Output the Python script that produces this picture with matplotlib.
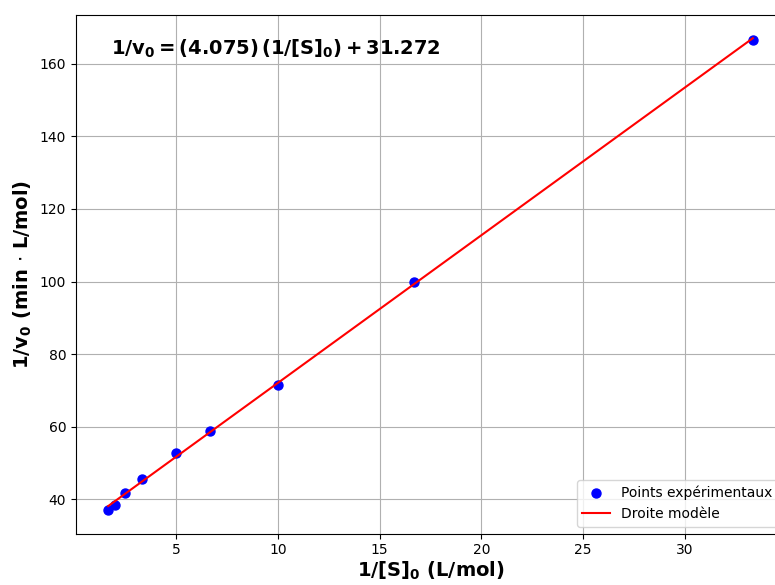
import matplotlib
matplotlib.use("Agg")
import matplotlib.pyplot as plt
import numpy as np

# 1/[S]0 (L/mol) and 1/v0 (min.L/mol)
inv_s = [1.667, 2.0, 2.5, 3.333, 5.0, 6.667, 10.0, 16.667, 33.333]
inv_v = [37.0, 38.3, 41.6, 45.5, 52.8, 58.7, 71.4, 100.0, 166.7]
slope = 4.075
intercept = 31.272

fig = plt.figure(figsize=(7.75, 5.85), dpi=100)
ax = fig.add_axes([0.098, 0.088, 0.915, 0.887])

x = np.array(inv_s)
ax.scatter(x, inv_v, color='blue', s=42, label='Points expérimentaux', zorder=3)
ax.plot(x, slope * x + intercept, color='red', label='Droite modèle', zorder=4)

ax.text(0.05, 0.955, r'$\mathbf{1/v_0 = (4.075)\,(1/[S]_0) + 31.272}$',
        transform=ax.transAxes, fontsize=14, va='top', ha='left')

ax.set_xlabel(r'$\mathbf{1/[S]_0}$ (L/mol)', fontsize=14, fontweight='bold', labelpad=2)
ax.set_ylabel(r'$\mathbf{1/v_0}$ (min $\cdot$ L/mol)', fontsize=14, fontweight='bold')
ax.grid(True)
ax.legend(loc='lower right')

fig.savefig('out.png', dpi=100)
